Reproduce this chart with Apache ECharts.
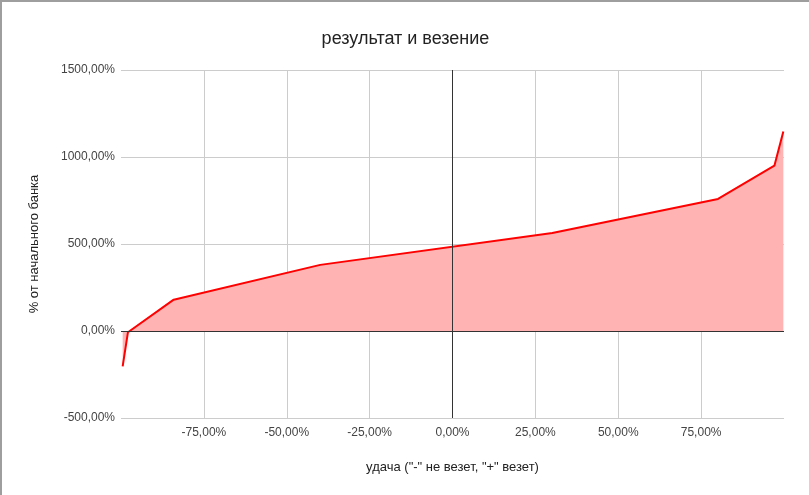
<!DOCTYPE html>
<html>
<head>
<meta charset="utf-8">
<script src="https://cdn.jsdelivr.net/npm/echarts@6/dist/echarts.min.js"></script>
<style>
    html, body { margin: 0; padding: 0; background: #fff; }
    #chart { width: 809px; height: 495px; box-sizing: border-box; border-top: 2px solid #9e9e9e; border-left: 2px solid #9e9e9e; }
</style>
</head>
<body>
<div id="chart"></div>
<script>
// данные: удача (%) -> результат (% от начального банка)
var luck = [-99.5, -97.9, -84.1, -39.9, 30.1, 80.1, 97.1, 99.8];
var result = [-203, -7, 180, 380, 563, 759, 950, 1146];
var xTicks = [-100, 100, 25];   // min, max, шаг
var yTicks = [-500, 1500, 500]; // min, max, шаг

(function() {
    var myChart = echarts.init(document.querySelector("#chart"));
    var fontFamily = "'Liberation Sans', Arial, sans-serif";
    var pct = function(v) {
        return v.toFixed(2).replace('.', ',') + '%';
    };
    var points = luck.map(function(x, i) {
        return [x, result[i]];
    });
    var option = {
        title: {
            text: 'результат и везение',
            left: 'center',
            top: 23,
            textStyle: {
                fontFamily: fontFamily,
                fontSize: 18,
                fontWeight: 'normal',
                color: '#222'
            }
        },
        grid: {
            left: 119,
            right: 25,
            top: 68,
            bottom: 77
        },
        xAxis: {
            type: 'value',
            min: xTicks[0],
            max: xTicks[1],
            interval: xTicks[2],
            name: 'удача ("-" не везет, "+" везет)',
            nameLocation: 'middle',
            nameGap: 43,
            nameTextStyle: { fontFamily: fontFamily, fontSize: 13, color: '#222' },
            axisLine: { show: false },
            axisTick: { show: false },
            axisLabel: {
                fontFamily: fontFamily,
                fontSize: 12,
                color: '#444',
                margin: 9,
                showMinLabel: false,
                showMaxLabel: false,
                formatter: pct
            },
            splitLine: {
                showMinLine: false,
                showMaxLine: false,
                lineStyle: { color: '#ccc' }
            }
        },
        yAxis: {
            type: 'value',
            min: yTicks[0],
            max: yTicks[1],
            interval: yTicks[2],
            name: '% от начального банка',
            nameLocation: 'middle',
            nameGap: 80,
            nameTextStyle: { fontFamily: fontFamily, fontSize: 13, color: '#222' },
            axisLine: { show: false },
            axisTick: { show: true, length: 3, lineStyle: { color: '#ccc' } },
            axisLabel: {
                fontFamily: fontFamily,
                fontSize: 12,
                color: '#444',
                margin: 6,
                formatter: pct
            },
            splitLine: { lineStyle: { color: '#ccc' } }
        },
        series: [{
            type: 'line',
            data: points,
            symbol: 'none',
            lineStyle: { color: '#ff0000', width: 2 },
            areaStyle: { color: '#ffb3b3', opacity: 1, origin: 0 },
            markLine: {
                silent: true,
                symbol: 'none',
                label: { show: false },
                lineStyle: { color: '#333', width: 1, type: 'solid' },
                data: [{ xAxis: 0 }, { yAxis: 0 }]
            },
            z: 3
        }],
        animation: false
    };
    myChart.setOption(option);
    window.addEventListener("resize", function() {
        myChart.resize();
    });
})();
</script>
</body>
</html>
